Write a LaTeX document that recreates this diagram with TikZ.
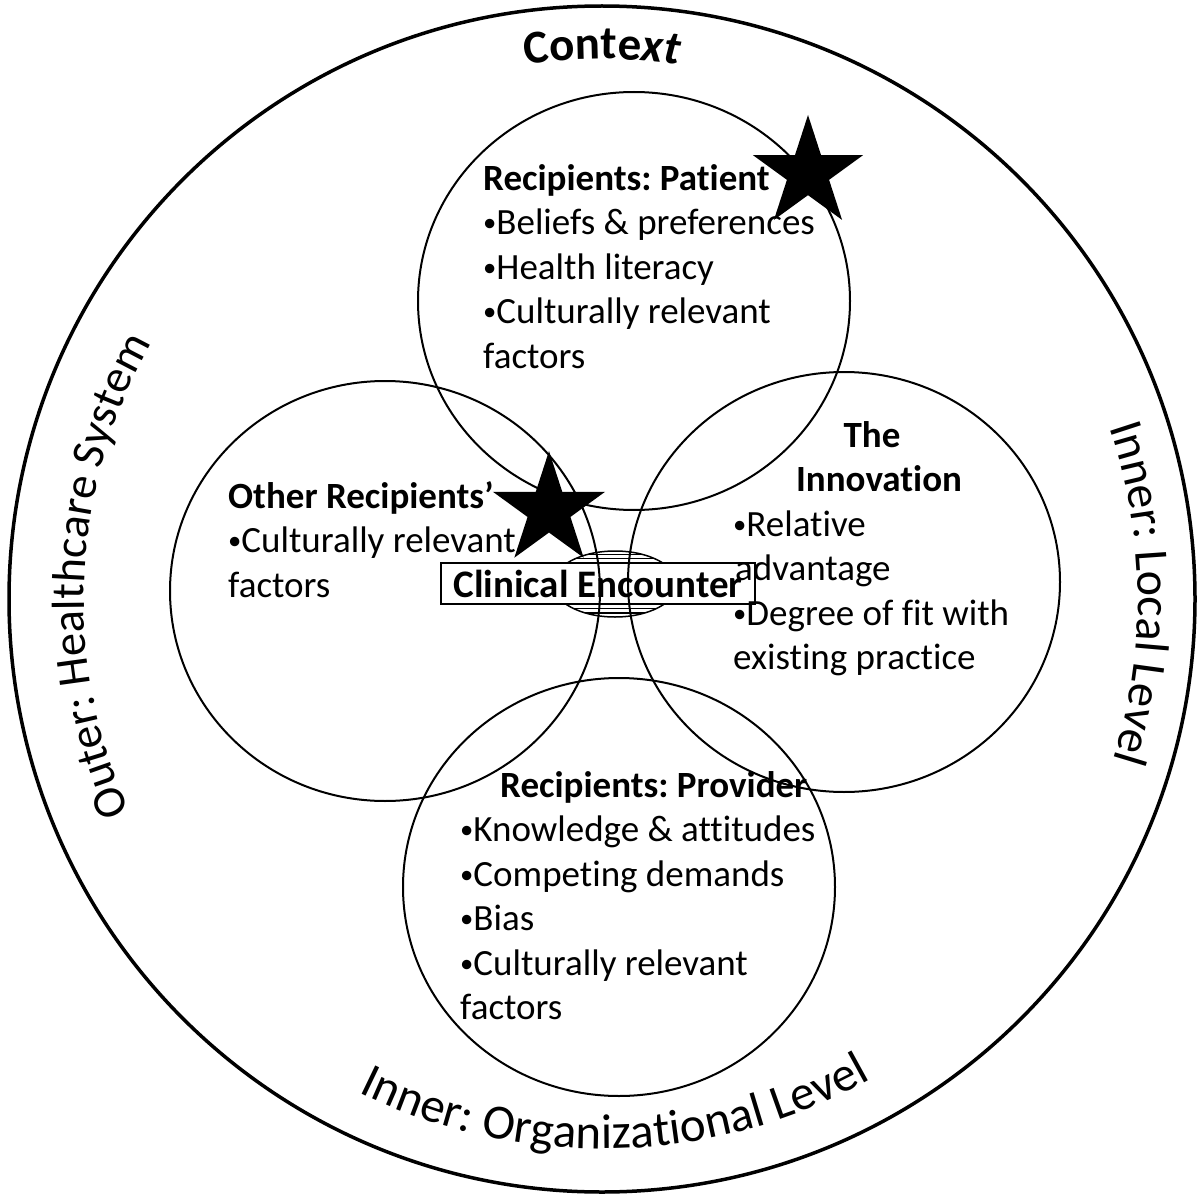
\documentclass[tikz,border=0pt]{standalone}
\usepackage{fontspec}
\usepackage{graphicx}
\setmainfont{Carlito}[Ligatures={NoCommon}]
\frenchspacing
\newcommand{\bu}{\raisebox{0.07em}{\scalebox{0.72}{•}}}
\usetikzlibrary{shapes.geometric,decorations.text}
\begin{document}
\begin{tikzpicture}[x=1pt,y=1pt,
  ring/.style={draw, line width=2pt},
  txt/.style={font=\fontsize{37}{44.5}\selectfont, anchor=base west, inner sep=0pt},
  hd/.style={font=\bfseries\fontsize{37}{44.5}\selectfont, anchor=base west, inner sep=0pt},
  starshape/.style={star, star points=5, star point ratio=2.618, fill=black, draw=none, inner sep=0pt, minimum size=116pt},
  curved/.style={decorate, decoration={text along path, text align=center, text={#1}}}
]
\useasboundingbox (0,0) rectangle (1203,-1196);
\coordinate (O) at (602,-599);
% outer ring
\draw[line width=3.5pt] (O) circle [radius=593pt];
% hatched ellipse
\begin{scope}
  \clip (615,-584) ellipse [x radius=62pt, y radius=33pt];
  \foreach \k in {0,...,17} \draw[line width=1.2pt] (545,-550-4.2*\k) -- (685,-550-4.2*\k);
\end{scope}
\draw[line width=1.5pt] (615,-584) ellipse [x radius=62pt, y radius=33pt];
% clinical encounter box
\node[draw, fill=white, line width=1.8pt, minimum width=314pt, minimum height=41pt, inner sep=0pt,
      font=\bfseries\fontsize{39}{40}\selectfont] (ce) at (598,-583.5) {Clinical Encounter};
% four circles
\draw[ring] (634,-301) ellipse [x radius=216pt, y radius=209pt];
\draw[ring] (385,-591) ellipse [x radius=215pt, y radius=210pt];
\draw[ring] (844,-582) ellipse [x radius=216pt, y radius=210pt];
\draw[ring] (619,-887) ellipse [x radius=216pt, y radius=209pt];
% patient
\node[hd] (p0) at (483,-190) {Recipients: Patient};
\node[txt] (p1) at (483,-234.5) {\bu Beliefs \& preferences};
\node[txt] (p2) at (483,-279) {\bu Health literacy};
\node[txt] (p3) at (483,-323.5) {\bu Culturally relevant};
\node[txt] (p4) at (483,-368) {factors};
% other recipients
\node[hd] (o0) at (228,-508) {Other Recipients’};
\node[txt] (o1) at (228,-552.5) {\bu Culturally relevant};
\node[txt] (o2) at (228,-597) {factors};
% innovation
\node[hd, anchor=base] (i0) at (872,-447) {The};
\node[hd, anchor=base] (i1) at (879,-491.5) {Innovation};
\node[txt] (i2) at (733,-536) {\bu Relative};
\node[txt] (i3) at (735,-580.5) {advantage};
\node[txt] (i4) at (733,-625) {\bu Degree of fit with};
\node[txt] (i5) at (733,-669.5) {existing practice};
% provider
\node[hd] (v0) at (500,-797) {Recipients: Provider};
\node[txt] (v1) at (460,-841.5) {\bu Knowledge \& attitudes};
\node[txt] (v2) at (460,-886) {\bu Competing demands};
\node[txt] (v3) at (460,-930.5) {\bu Bias};
\node[txt] (v4) at (460,-975) {\bu Culturally relevant};
\node[txt] (v5) at (460,-1019.5) {factors};
% stars
\node[starshape] (s1) at (808,-173) {};
\node[starshape, minimum size=118pt] (s2) at (549,-510) {};
% curved labels
\path[curved={|\bfseries\fontsize{47}{47}\selectfont|Conte|\bfseries\itshape\fontsize{47}{47}\selectfont|xt}]
  ([shift={(110:540pt)}]O) arc[start angle=110, end angle=70, radius=540pt];
\path[curved={|\fontsize{46.5}{46.5}\selectfont|Outer: Healthcare System}]
  ([shift={(212.3:518pt)}]O) arc[start angle=212.3, end angle=142.3, radius=518pt];
\path[curved={|\fontsize{48}{48}\selectfont|Inner: Local Level}]
  ([shift={(35.6:536pt)}]O) arc[start angle=35.6, end angle=-34.4, radius=536pt];
\path[curved={|\fontsize{49}{49}\selectfont|Inner: Organizational Level}]
  ([shift={(231.5:550pt)}]O) arc[start angle=231.5, end angle=311.5, radius=550pt];
\end{tikzpicture}
\end{document}
